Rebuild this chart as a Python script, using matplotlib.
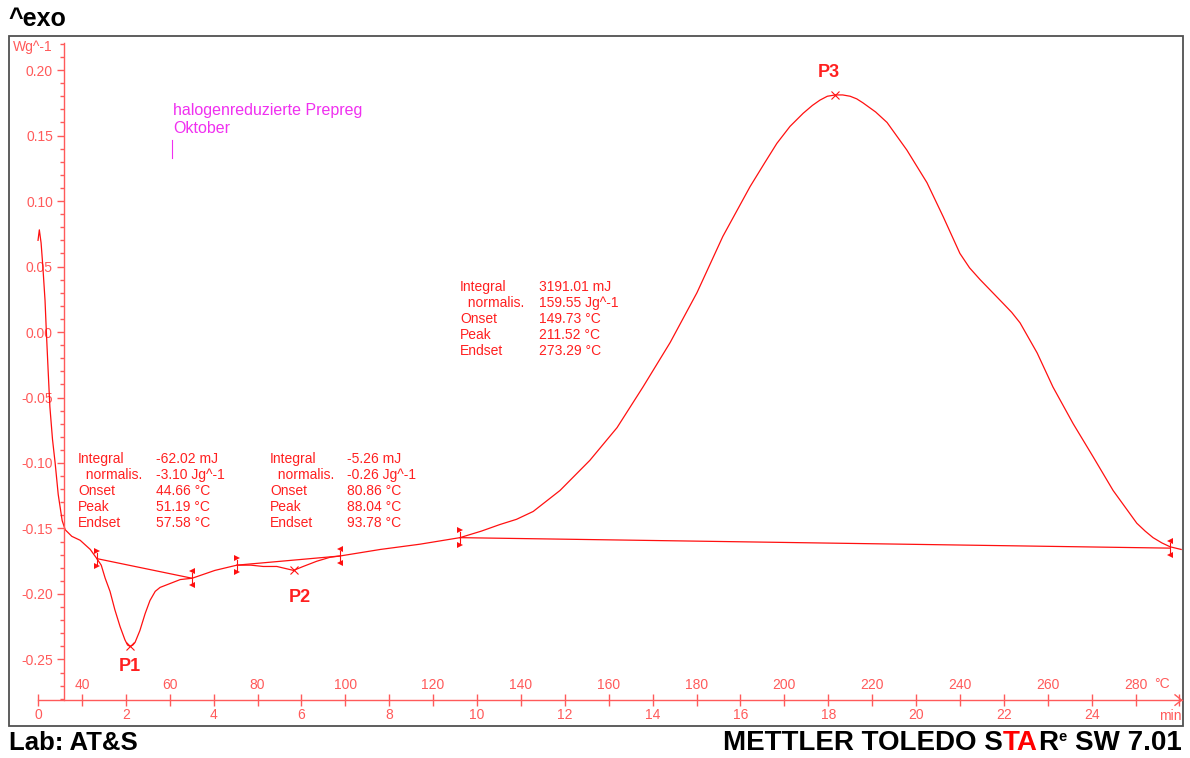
import numpy as np
import matplotlib
matplotlib.use("Agg")
import matplotlib.pyplot as plt
from matplotlib.patches import Rectangle
from matplotlib.ticker import FixedLocator

plt.rcParams['font.family'] = ['Liberation Sans', 'DejaVu Sans']
plt.rcParams['axes.unicode_minus'] = False

# DSC curve: time in min, heat flow in W/g
time_min = [0.00, 0.03, 0.07, 0.11, 0.16, 0.19, 0.23, 0.27, 0.33, 0.39,
            0.46, 0.55, 0.62, 0.77, 0.96, 1.19, 1.34, 1.44, 1.53, 1.64,
            1.75, 1.87, 1.98, 2.04, 2.10, 2.16, 2.21, 2.32, 2.44, 2.55,
            2.67, 2.78, 3.01, 3.24, 3.51, 4.03, 4.53, 4.85, 5.13, 5.44,
            5.82, 6.04, 6.35, 6.65, 6.88, 7.80, 8.70, 9.61, 10.10, 10.52,
            10.90, 11.28, 11.89, 12.57, 13.19, 13.78, 14.40, 15.01, 15.60, 16.22,
            16.55, 16.83, 17.13, 17.43, 17.64, 17.81, 17.98, 18.16, 18.33, 18.50,
            18.65, 18.79, 19.08, 19.34, 19.79, 20.25, 20.62, 21.00, 21.22, 21.46,
            21.72, 21.98, 22.18, 22.37, 22.76, 23.12, 23.58, 24.03, 24.49, 25.03,
            25.22, 25.40, 25.60, 25.79, 26.04]
heat_flow = [0.070, 0.078, 0.068, 0.050, 0.024, 0.000, -0.029, -0.057, -0.082, -0.100,
             -0.124, -0.144, -0.151, -0.156, -0.159, -0.166, -0.173, -0.178, -0.188, -0.198,
             -0.212, -0.225, -0.235, -0.239, -0.240, -0.239, -0.237, -0.228, -0.215, -0.205,
             -0.198, -0.195, -0.192, -0.189, -0.188, -0.182, -0.178, -0.178, -0.179, -0.179,
             -0.182, -0.179, -0.175, -0.172, -0.171, -0.166, -0.162, -0.157, -0.152, -0.147,
             -0.143, -0.137, -0.121, -0.098, -0.073, -0.042, -0.008, 0.030, 0.073, 0.111,
             0.129, 0.144, 0.157, 0.167, 0.173, 0.177, 0.180, 0.181, 0.181, 0.180,
             0.178, 0.175, 0.168, 0.160, 0.139, 0.114, 0.088, 0.060, 0.049, 0.040,
             0.031, 0.022, 0.015, 0.007, -0.016, -0.042, -0.070, -0.095, -0.121, -0.146,
             -0.152, -0.157, -0.161, -0.164, -0.166]

# integration limits (min) with baseline values (W/g)
p1_limits = [1.34, 3.51]
p1_base = [-0.173, -0.188]
p2_limits = [4.53, 6.88]
p2_base = [-0.178, -0.171]
p3_limits = [9.61, 25.79]
p3_base = [-0.157, -0.165]

peak_names = ['P1', 'P2', 'P3']
peak_time = [2.10, 5.82, 18.16]
peak_value = [-0.240, -0.182, 0.181]

row_names = ['Integral', '  normalis.', 'Onset', 'Peak', 'Endset']
p1_results = ['-62.02 mJ', '-3.10 Jg^-1', '44.66 °C', '51.19 °C', '57.58 °C']
p2_results = ['-5.26 mJ', '-0.26 Jg^-1', '80.86 °C', '88.04 °C', '93.78 °C']
p3_results = ['3191.01 mJ', '159.55 Jg^-1', '149.73 °C', '211.52 °C', '273.29 °C']

y_major = [-0.25, -0.20, -0.15, -0.10, -0.05, 0.00, 0.05, 0.10, 0.15, 0.20]
time_ticks = [0, 2, 4, 6, 8, 10, 12, 14, 16, 18, 20, 22, 24, 26]
temp_ticks = [40, 60, 80, 100, 120, 140, 160, 180, 200, 220, 240, 260, 280]

axis_red = '#ff5a5a'
curve_red = '#ff1010'
text_red = '#ff2020'
magenta = '#f030f0'

fig = plt.figure(figsize=(11.9, 7.58), dpi=100)
ax = fig.add_axes([9 / 1190, 32 / 758, 1174 / 1190, 690 / 758])
ax.set_xlim(-0.661, 26.082)
ax.set_ylim(-0.3008, 0.2260)

# outer frame
ax.add_patch(Rectangle((0, 0), 1, 1, transform=ax.transAxes, fill=False,
                       ec='#505050', lw=1.3, clip_on=False))

x_axis_y = -0.281
y_axis_x = 0.592
for s in ['top', 'right']:
    ax.spines[s].set_visible(False)
ax.spines['left'].set_position(('data', y_axis_x))
ax.spines['left'].set_bounds(x_axis_y, 0.221)
ax.spines['bottom'].set_position(('data', x_axis_y))
ax.spines['bottom'].set_bounds(0, 26.05)
for s in ['left', 'bottom']:
    ax.spines[s].set_color(axis_red)
    ax.spines[s].set_linewidth(1.0)

ax.yaxis.set_major_locator(FixedLocator(y_major))
ax.yaxis.set_minor_locator(FixedLocator(np.arange(-28, 23) / 100))
ax.set_yticklabels(['%.2f' % v for v in y_major])
ax.tick_params(axis='y', which='major', length=5, width=1, color=axis_red,
               labelcolor=axis_red, labelsize=10, pad=3)
ax.tick_params(axis='y', which='minor', length=3, width=1, color=axis_red)

ax.set_xticks(time_ticks)
ax.set_xticklabels([str(t) for t in time_ticks[:-1]] + [''])
ax.tick_params(axis='x', direction='inout', length=8, width=1, color=axis_red,
               labelcolor=axis_red, labelsize=10, pad=2)

sec = ax.secondary_xaxis(x_axis_y, functions=(lambda t: 30 + 10 * t, lambda T: (T - 30) / 10),
                         transform=ax.transData)
sec.set_alignment('top')
sec.spines['top'].set_visible(False)
sec.spines['bottom'].set_visible(False)
sec.set_xticks(temp_ticks)
sec.tick_params(direction='inout', length=8, width=1, color=axis_red,
                labelcolor=axis_red, labelsize=10, pad=2)

ax.text(0.32, 0.2176, 'Wg^-1', color=axis_red, fontsize=10, ha='right', va='center')
ax.text(26.05, -0.2935, 'min', color=axis_red, fontsize=10, ha='right', va='center')
ax.text(25.6, -0.2685, '°C', color=axis_red, fontsize=10, ha='center', va='center')
# arrow head at the end of the time axis
ax.plot([25.9, 26.05, 25.9], [x_axis_y + 0.004, x_axis_y, x_axis_y - 0.004],
        color=axis_red, lw=1.0, clip_on=False)

# curve and baselines
ax.plot(time_min, heat_flow, color=curve_red, lw=0.9, clip_on=False)
for lims, base in [(p1_limits, p1_base), (p2_limits, p2_base), (p3_limits, p3_base)]:
    ax.plot(lims, base, color=curve_red, lw=0.9)
    for t, b, m in [(lims[0], base[0], '>'), (lims[1], base[1], '<')]:
        ax.plot([t, t], [b - 0.004, b + 0.004], color=curve_red, lw=0.8)
        ax.plot([t, t], [b + 0.0055, b - 0.0055], ls='none', marker=m, ms=5,
                color=curve_red, mew=0)

ax.plot(peak_time, peak_value, ls='none', marker='x', ms=6, mew=0.8, color=curve_red)
label_dy = [-0.0155, -0.0205, 0.0175]
label_dx = [-0.02, 0.15, -0.15]
for name, t, v, dx, dy in zip(peak_names, peak_time, peak_value, label_dx, label_dy):
    ax.text(t + dx, v + dy, name, color=text_red, fontsize=13, fontweight='bold',
            ha='center', va='center')

# result tables
row_y1 = [-0.0969, -0.1092, -0.1214, -0.1336, -0.1458]
row_y3 = [0.0344, 0.0221, 0.0099, -0.0023, -0.0145]
for x_lab, x_val, rows, results in [(0.91, 2.69, row_y1, p1_results),
                                    (5.29, 7.04, row_y1, p2_results),
                                    (9.61, 11.41, row_y3, p3_results)]:
    for name, res, y in zip(row_names, results, rows):
        ax.text(x_lab, y, name, color=text_red, fontsize=10, ha='left', va='center')
        ax.text(x_val, y, res, color=text_red, fontsize=10, ha='left', va='center')

ax.text(3.07, 0.1695, 'halogenreduzierte Prepreg', color=magenta, fontsize=11.5,
        ha='left', va='center')
ax.text(3.07, 0.1557, 'Oktober', color=magenta, fontsize=11.5, ha='left', va='center')
ax.plot([3.05, 3.05], [0.1465, 0.1325], color=magenta, lw=0.8)

# header and footer
fig.text(8 / 1190, 1 - 19 / 758, '^exo', fontsize=18, fontweight='bold', va='center')
fig.text(9 / 1190, 8 / 758, 'Lab: AT&S', fontsize=18.5, fontweight='bold', va='baseline')

renderer = fig.canvas.get_renderer()
footer_parts = [('METTLER TOLEDO S', 'black', 20, 0), ('TA', 'red', 20, 0),
                ('R', 'black', 20, 0), ('e', 'black', 10.5, 9), ('SW 7.01', 'black', 20, 0)]
x = 723
for piece, col, size, dy in footer_parts:
    if piece.startswith('SW'):
        x += 0.28 * size * 100 / 72
    txt = fig.text(x / 1190, (8 + dy) / 758, piece, color=col, fontsize=size,
                   fontweight='bold', va='baseline')
    bb = txt.get_window_extent(renderer)
    x = bb.x1 + (1 if piece == 'R' else 0)

fig.savefig('out.png', dpi=100)
